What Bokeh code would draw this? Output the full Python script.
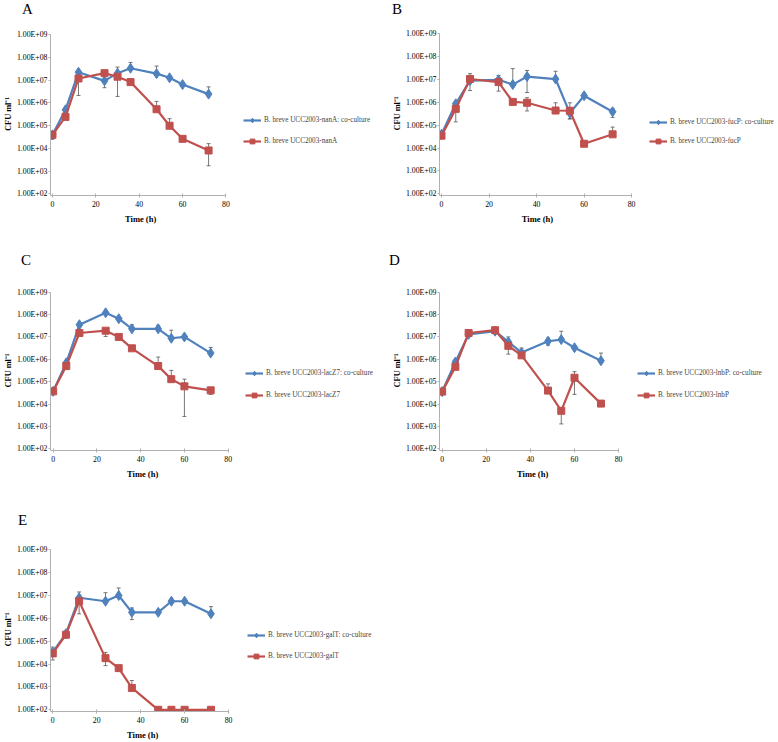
from bokeh.plotting import figure
from bokeh.models import (ColumnDataSource, Whisker, TeeHead, Legend, LegendItem,
                          FixedTicker, Range1d, Title, Div)
from bokeh.layouts import column, row
from bokeh.embed import file_html
from bokeh.resources import INLINE

# ---------------- data ----------------
hours = [0, 6, 12, 24, 30, 36, 48, 54, 60, 72]
x_ticks = [0, 20, 40, 60, 80]
y_ticks = [10**k for k in range(2, 10)]
y_tick_labels = ["1.00E+02", "1.00E+03", "1.00E+04", "1.00E+05",
                 "1.00E+06", "1.00E+07", "1.00E+08", "1.00E+09"]
panel_letters = ["A", "B", "C", "D", "E"]
strains = ["nanA", "fucP", "lacZ7", "lnbP", "galT"]
x_title = "Time (h)"
y_title = "CFU ml\u207b\u00b9"

# A: nanA
A_co = [3.9e4, 4.9e5, 2.2e7, 9.2e6, 2.0e7, 3.3e7, 1.9e7, 1.25e7, 6.3e6, 2.4e6]
A_co_hi = [3.9e4, 4.9e5, 2.2e7, 9.2e6, 3.7e7, 5.9e7, 4.1e7, 1.25e7, 6.3e6, 5.0e6]
A_co_lo = [2.5e4, 4.9e5, 2.2e7, 4.6e6, 2.0e7, 3.3e7, 1.9e7, 1.25e7, 6.3e6, 2.4e6]
A_mut = [3.9e4, 2.4e5, 1.17e7, 2.0e7, 1.4e7, 8.1e6, 5.2e5, 9.8e4, 2.6e4, 8.0e3]
A_mut_hi = [3.9e4, 2.4e5, 1.17e7, 2.0e7, 1.4e7, 8.1e6, 1.15e6, 2.0e5, 2.6e4, 1.6e4]
A_mut_lo = [3.9e4, 2.4e5, 2.1e6, 2.0e7, 1.9e6, 8.1e6, 5.2e5, 9.8e4, 2.6e4, 1.7e3]

# B: fucP
B_co = [4.0e4, 8.7e5, 9.0e6, 9.7e6, 6.0e6, 1.35e7, 1.05e7, 3.4e5, 1.95e6, 3.9e5]
B_co_hi = [4.0e4, 8.7e5, 9.0e6, 1.5e7, 3.0e7, 2.5e7, 2.3e7, 3.4e5, 1.95e6, 5.2e5]
B_co_lo = [4.0e4, 8.7e5, 9.0e6, 9.7e6, 6.0e6, 2.7e6, 1.05e7, 1.9e5, 1.95e6, 2.2e5]
B_mut = [3.5e4, 5.2e5, 1.05e7, 7.7e6, 1.05e6, 9.6e5, 4.4e5, 4.3e5, 1.55e4, 4.0e4]
B_mut_hi = [3.5e4, 5.2e5, 1.8e7, 7.7e6, 1.05e6, 1.6e6, 9.6e5, 9.6e5, 1.55e4, 8.3e4]
B_mut_lo = [3.5e4, 1.4e5, 3.3e6, 3.1e6, 1.05e6, 4.2e5, 4.4e5, 1.9e5, 1.55e4, 4.0e4]

# C: lacZ7
C_co = [3.7e4, 7.0e5, 3.5e7, 1.2e8, 6.5e7, 2.3e7, 2.3e7, 8.7e6, 1.0e7, 1.9e6]
C_co_hi = [3.7e4, 7.0e5, 3.5e7, 1.2e8, 6.5e7, 3.5e7, 3.3e7, 2.0e7, 1.0e7, 3.4e6]
C_co_lo = [3.7e4, 7.0e5, 3.5e7, 1.2e8, 6.5e7, 2.3e7, 2.3e7, 8.7e6, 1.0e7, 1.9e6]
C_mut = [3.7e4, 5.0e5, 1.5e7, 1.9e7, 1.0e7, 3.1e6, 5.0e5, 1.3e5, 6.2e4, 4.1e4]
C_mut_hi = [3.7e4, 5.0e5, 1.5e7, 1.9e7, 1.0e7, 3.1e6, 1.26e6, 3.2e5, 1.3e5, 4.1e4]
C_mut_lo = [3.7e4, 5.0e5, 1.5e7, 1.05e7, 1.0e7, 3.1e6, 5.0e5, 1.3e5, 2.8e3, 2.7e4]

# D: lnbP
D_co = [3.6e4, 7.6e5, 1.3e7, 1.8e7, 6.0e6, 2.0e6, 6.4e6, 7.6e6, 3.3e6, 8.6e5]
D_co_hi = [3.6e4, 7.6e5, 1.3e7, 1.8e7, 1.0e7, 3.2e6, 8.9e6, 1.8e7, 3.3e6, 1.9e6]
D_co_lo = [3.6e4, 7.6e5, 1.3e7, 1.8e7, 6.0e6, 2.0e6, 4.3e6, 7.6e6, 3.3e6, 8.6e5]
D_mut = [3.6e4, 4.6e5, 1.5e7, 2.0e7, 4.0e6, 1.5e6, 4.0e4, 5.0e3, 1.5e5, 1.05e4]
D_mut_hi = [3.6e4, 4.6e5, 1.5e7, 2.0e7, 4.0e6, 1.5e6, 8.0e4, 5.0e3, 2.8e5, 1.05e4]
D_mut_lo = [3.6e4, 4.6e5, 1.5e7, 2.0e7, 1.7e6, 1.5e6, 4.0e4, 1.3e3, 2.7e4, 1.05e4]

# E: galT
E_co = [3.3e4, 2.1e5, 7.8e6, 5.5e6, 9.8e6, 1.8e6, 1.8e6, 5.5e6, 5.5e6, 1.55e6]
E_co_hi = [3.3e4, 2.1e5, 1.4e7, 1.3e7, 2.1e7, 2.8e6, 1.8e6, 5.5e6, 5.5e6, 3.2e6]
E_co_lo = [3.3e4, 2.1e5, 7.8e6, 5.5e6, 9.8e6, 8.7e5, 1.8e6, 5.5e6, 5.5e6, 1.55e6]
E_mut = [2.9e4, 1.9e5, 5.5e6, 1.8e4, 6.6e3, 9.0e2, 1e2, 1e2, 1e2, 1e2]
E_mut_hi = [5.5e4, 1.9e5, 5.5e6, 3.2e4, 6.6e3, 1.9e3, 1e2, 1e2, 1e2, 1e2]
E_mut_lo = [1.5e4, 1.9e5, 1.55e6, 8.5e3, 6.6e3, 9.0e2, 1e2, 1e2, 1e2, 1e2]

# ---------------- style ----------------
BLUE = "#4F81BD"
RED = "#C0504D"
ERR = "#555555"
AXIS = "#b0b0b0"
FONT = "Liberation Serif"

# layout geometry (page pixels): fig x, fig y, width, height,
# x=0 px, x=80 px, 1E+09 px, 1E+02 px, legend glyph x, legend row1 y, row2 y,
# letter x, letter baseline y
GEO = {
    "A": (0, 0, 389, 240, 49, 224, 34, 193.3, 240, 120, 140.7, 22, 15),
    "B": (389, 0, 389, 240, 440, 630.7, 33.3, 193.3, 648, 122, 141, 392, 15),
    "C": (0, 240, 389, 240, 47.7, 225.3, 291.7, 452.3, 240, 377.7, 399.3, 21, 266),
    "D": (389, 240, 389, 240, 435.7, 615.3, 291.7, 452.3, 631, 377.7, 399.3, 389, 266),
    "E": (0, 480, 389, 262, 47.3, 225.7, 549, 709.3, 242, 635, 656, 18, 526),
}


def err_source(vals, hi, lo):
    idx = [i for i in range(len(hours)) if hi[i] > vals[i] or lo[i] < vals[i]]
    return ColumnDataSource(dict(t=[hours[i] for i in idx],
                                 hi=[hi[i] for i in idx],
                                 lo=[lo[i] for i in idx]))


def letter_div(letter, W, Hd, x, top):
    html = (f'<div style="position:relative;width:{W}px;height:{Hd}px;">'
            f'<span style="position:absolute;left:{x}px;top:{top:.1f}px;'
            f"font-family:'{FONT}';font-size:15px;line-height:15px;color:#000;\">"
            f'{letter}</span></div>')
    return Div(text=html, width=W, height=Hd, margin=0)


def build(letter, strain, co, co_hi, co_lo, mut, mut_hi, mut_lo):
    fx, fy0, W, H0, x0, x80, y9, y2, lgx, lgy1, lgy2, ltx, ltb = GEO[letter]
    Hd = int(round(ltb - fy0 + 5))
    d = letter_div(letter, W, Hd, ltx - fx, ltb - fy0 - 12.6)
    fy = fy0 + Hd
    H = H0 - Hd

    sx = (x80 - x0) / 80.0
    left = int(round(x0 - sx - fx))
    frame_left = fx + left
    x_start = (frame_left - x0) / sx
    right = 2
    frame_right = fx + W - right
    x_end = (frame_right - x0) / sx
    sy = (y2 - y9) / 7.0
    top = int(round(y9 - 0.08 * sy - fy))
    frame_top = fy + top
    bottom = int(round(fy + H - (y2 + 0.08 * sy)))
    frame_bottom = fy + H - bottom
    y_end = 9 + (y9 - frame_top) / sy
    y_start = 2 - (frame_bottom - y2) / sy

    p = figure(width=W, height=H, x_range=Range1d(x_start, x_end),
               y_range=Range1d(10 ** y_start, 10 ** y_end), y_axis_type="log",
               output_backend="svg", toolbar_location=None,
               min_border_left=left, min_border_right=right,
               min_border_top=top, min_border_bottom=bottom)
    p.outline_line_color = None
    p.xgrid.visible = False
    p.ygrid.visible = False
    p.background_fill_color = "white"
    p.border_fill_color = "white"

    for ax in (p.xaxis[0], p.yaxis[0]):
        ax.axis_line_color = AXIS
        ax.major_tick_line_color = AXIS
        ax.minor_tick_line_color = None
        ax.major_label_standoff = 2
        ax.axis_label_standoff = 2
        ax.major_label_text_font = FONT
        ax.major_label_text_font_size = "7.8px"
        ax.major_label_text_color = "black"
        ax.axis_label_text_font = FONT
        ax.axis_label_text_font_size = "8.3px"
        ax.axis_label_text_font_style = "bold"
        ax.axis_label_text_color = "black"
    p.xaxis.major_tick_out = 2
    p.xaxis.major_tick_in = 2
    p.xaxis.major_label_standoff = 3
    p.yaxis.major_tick_out = 2
    p.yaxis.major_tick_in = 0
    p.yaxis.major_label_standoff = 1
    p.yaxis.axis_label_standoff = 1
    p.xaxis.ticker = FixedTicker(ticks=x_ticks)
    p.xaxis.bounds = (x_start, 80)
    p.yaxis.ticker = FixedTicker(ticks=y_ticks)
    p.yaxis.major_label_overrides = dict(zip(y_ticks, y_tick_labels))
    p.yaxis.bounds = (10 ** y_start, 10 ** 9)
    p.yaxis.axis_label = y_title

    # x-axis title centred under the 0-80 axis
    x_mid = x0 + 40 * sx
    p.add_layout(Title(text=x_title, align="left", offset=x_mid - frame_left - 15,
                       text_font=FONT, text_font_size="8.5px",
                       text_font_style="bold", text_color="black", standoff=4),
                 "below")

    for vals, hi, lo in ((co, co_hi, co_lo), (mut, mut_hi, mut_lo)):
        w = Whisker(base="t", upper="hi", lower="lo", source=err_source(vals, hi, lo),
                    line_color=ERR, line_width=0.8,
                    upper_head=TeeHead(size=4, line_color=ERR, line_width=0.8),
                    lower_head=TeeHead(size=4, line_color=ERR, line_width=0.8))
        p.add_layout(w)

    src = ColumnDataSource(dict(t=hours, co=co, mut=mut))
    l1 = p.line("t", "co", source=src, line_color=BLUE, line_width=2.2)
    s1 = p.scatter("t", "co", source=src, marker="diamond", size=10,
                   fill_color=BLUE, line_color=BLUE)
    l2 = p.line("t", "mut", source=src, line_color=RED, line_width=2.2)
    s2 = p.scatter("t", "mut", source=src, marker="square", size=7,
                   fill_color=RED, line_color=RED)

    entry_h = 12
    leg = Legend(items=[
        LegendItem(label=f"B. breve UCC2003-{strain}: co-culture", renderers=[l1, s1]),
        LegendItem(label=f"B. breve UCC2003-{strain}", renderers=[l2, s2]),
    ], location=(lgx - frame_left, frame_bottom - (lgy2 + entry_h / 2)),
        label_text_font=FONT, label_text_font_size="7.2px",
        glyph_width=18, glyph_height=entry_h, label_height=entry_h,
        label_width=110, label_standoff=3,
        spacing=int(round(lgy2 - lgy1 - entry_h)), padding=0, margin=0,
        border_line_color=None, background_fill_alpha=0)
    p.add_layout(leg)
    return column(d, p)


pA = build("A", strains[0], A_co, A_co_hi, A_co_lo, A_mut, A_mut_hi, A_mut_lo)
pB = build("B", strains[1], B_co, B_co_hi, B_co_lo, B_mut, B_mut_hi, B_mut_lo)
pC = build("C", strains[2], C_co, C_co_hi, C_co_lo, C_mut, C_mut_hi, C_mut_lo)
pD = build("D", strains[3], D_co, D_co_hi, D_co_lo, D_mut, D_mut_hi, D_mut_lo)
pE = build("E", strains[4], E_co, E_co_hi, E_co_lo, E_mut, E_mut_hi, E_mut_lo)

root = column(row(pA, pB), row(pC, pD), row(pE))
open("out.html", "w").write(file_html(root, INLINE))
